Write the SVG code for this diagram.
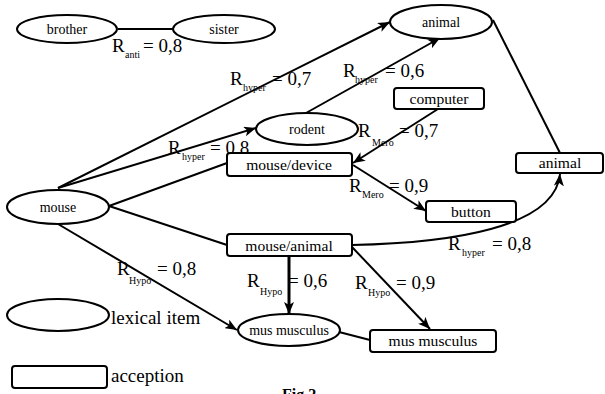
<svg xmlns="http://www.w3.org/2000/svg" width="605" height="394" viewBox="0 0 605 394" font-family="'Liberation Serif', 'Times New Roman', serif">
<defs>
<marker id="arr" markerUnits="userSpaceOnUse" markerWidth="14" markerHeight="10" refX="12" refY="5" orient="auto">
<path d="M0,0 L12,5 L0,10 L3,5 z" fill="#000"/>
</marker>
<style>
.n{fill:#fff;stroke:#000;stroke-width:2}
.e{fill:none;stroke:#000;stroke-width:2}
.a{marker-end:url(#arr)}
text{font-family:'Liberation Serif','Times New Roman',serif}
.te{font-size:14px;text-anchor:middle}
.tr{font-size:15.6px;text-anchor:middle}
.l{font-size:19px}
.s{font-size:10px}
</style>
</defs>
<rect width="605" height="394" fill="#fff"/>
<g id="connectors">
<line class="e" x1="118" y1="29" x2="173" y2="29"/>
<line class="e a" x1="58" y1="188" x2="390" y2="22"/>
<line class="e a" x1="58" y1="188" x2="256" y2="128"/>
<line class="e" x1="109" y1="206" x2="227" y2="163"/>
<line class="e" x1="109" y1="206" x2="227" y2="245"/>
<line class="e a" x1="58" y1="224" x2="237" y2="330"/>
<line class="e a" x1="306" y1="113" x2="440" y2="38"/>
<line class="e a" x1="438" y1="109" x2="353" y2="163"/>
<line class="e a" x1="353" y1="165" x2="426" y2="211"/>
<line class="e" x1="493" y1="20" x2="560" y2="153"/>
<path class="e a" d="M352,245 C450,243 555,228 560,174"/>
<line class="e a" x1="289" y1="256" x2="289" y2="314" style="stroke-width:3"/>
<line class="e a" x1="352" y1="247" x2="430" y2="329"/>
<line class="e" x1="339" y1="332" x2="370" y2="340"/>
</g>
<g id="labels">
<text class="l" x="112" y="52">R</text><text class="s" x="125" y="58">anti</text><text class="l" x="143" y="52">= 0,8</text>
<text class="l" x="230" y="85">R</text><text class="s" x="243" y="91">hyper</text><text class="l" x="272" y="85">= 0,7</text>
<text class="l" x="168" y="154">R</text><text class="s" x="182" y="160">hyper</text><text class="l" x="210" y="154">= 0,8</text>
<text class="l" x="343" y="77">R</text><text class="s" x="355" y="83">hyper</text><text class="l" x="385" y="77">= 0,6</text>
<text class="l" x="358" y="137">R</text><text class="s" x="372" y="146">Mero</text><text class="l" x="399" y="137">= 0,7</text>
<text class="l" x="349" y="192">R</text><text class="s" x="362" y="198">Mero</text><text class="l" x="389" y="192">= 0,9</text>
<text class="l" x="448" y="250">R</text><text class="s" x="462" y="256">hyper</text><text class="l" x="492" y="250">= 0,8</text>
<text class="l" x="117" y="275">R</text><text class="s" x="129" y="284">Hypo</text><text class="l" x="157" y="275">= 0,8</text>
<text class="l" x="247" y="287">R</text><text class="s" x="260" y="295">Hypo</text><text class="l" x="288" y="287">= 0,6</text>
<text class="l" x="355" y="289">R</text><text class="s" x="368" y="296">Hypo</text><text class="l" x="396" y="289">= 0,9</text>
</g>
<g id="brother"><ellipse class="n" cx="67" cy="29" rx="50" ry="14"/><text class="te" x="67" y="34">brother</text></g>
<g id="sister"><ellipse class="n" cx="224" cy="29" rx="51" ry="14"/><text class="te" x="224" y="34">sister</text></g>
<g id="animal-item"><ellipse class="n" cx="441" cy="22" rx="51" ry="17"/><text class="te" x="441" y="27">animal</text></g>
<g id="rodent"><ellipse class="n" cx="307" cy="129" rx="51" ry="16"/><text class="te" x="307" y="134">rodent</text></g>
<g id="computer"><rect class="n" x="394" y="88" width="90" height="21" rx="3"/><text class="tr" x="439" y="104">computer</text></g>
<g id="mouse-device"><rect class="n" x="227" y="153" width="125" height="23" rx="3"/><text class="tr" x="289" y="170">mouse/device</text></g>
<g id="animal-acception"><rect class="n" x="516" y="153" width="87" height="20" rx="3"/><text class="tr" x="560" y="168">animal</text></g>
<g id="button"><rect class="n" x="426" y="201" width="90" height="21" rx="3"/><text class="tr" x="471" y="217">button</text></g>
<g id="mouse"><ellipse class="n" cx="58" cy="207" rx="51" ry="17"/><text class="te" x="58" y="212">mouse</text></g>
<g id="mouse-animal"><rect class="n" x="227" y="234" width="125" height="22" rx="3"/><text class="tr" x="289" y="251">mouse/animal</text></g>
<g id="mus-musculus-item"><ellipse class="n" cx="289" cy="330" rx="51" ry="16"/><text class="te" x="289" y="335">mus musculus</text></g>
<g id="mus-musculus-acception"><rect class="n" x="370" y="330" width="126" height="22" rx="3"/><text class="tr" x="433" y="346">mus musculus</text></g>
<g id="legend">
<ellipse class="n" cx="58" cy="315" rx="51" ry="16"/><text class="l" x="111" y="324">lexical item</text>
<rect class="n" x="12" y="366" width="95" height="22" rx="3"/><text class="l" x="111" y="382">acception</text>
</g>
<text x="282" y="400" style="font-size:16px;font-weight:bold">Fig.2</text>
</svg>
